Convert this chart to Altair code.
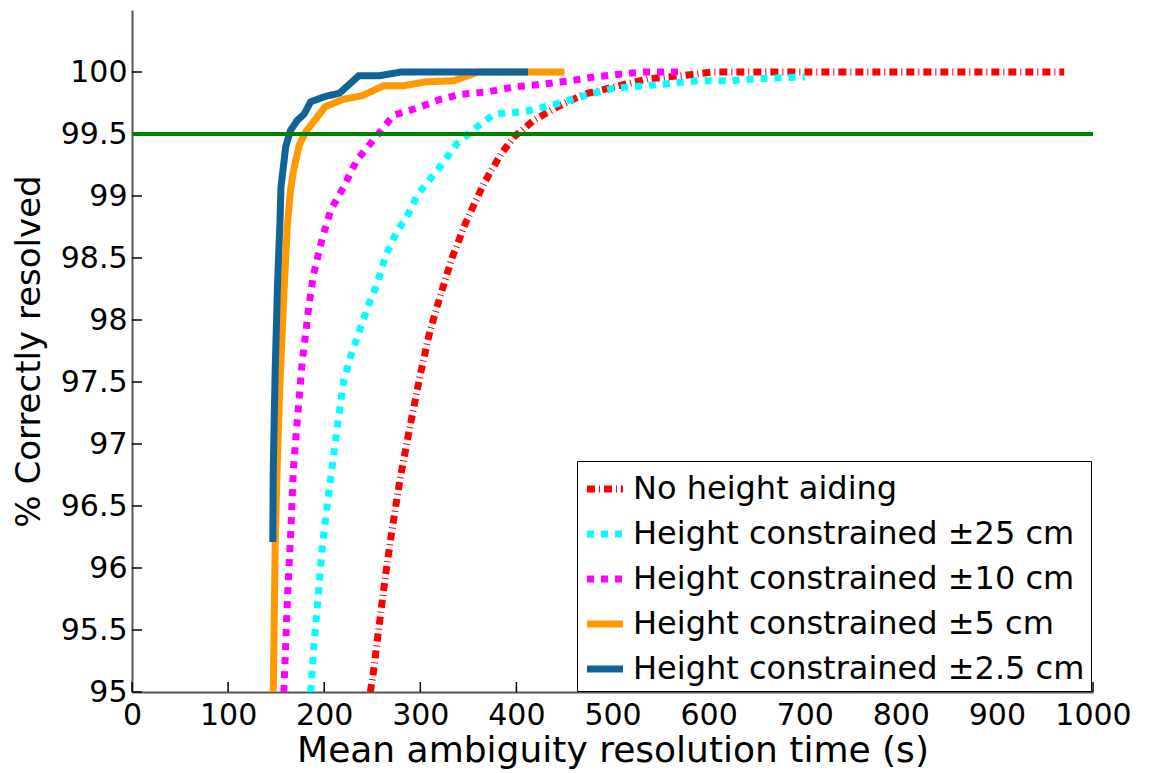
import altair as alt
import pandas as pd

# ---- data ----
series_names = [
    "No height aiding",
    "Height constrained \u00b125 cm",
    "Height constrained \u00b110 cm",
    "Height constrained \u00b15 cm",
    "Height constrained \u00b12.5 cm",
]
series_colors = ["#FF0000", "#00FFFF", "#FF00FF", "#FF9900", "#106399"]
series_dashes = [[8, 4, 1, 4], [7, 7], [7, 7], [1, 0], [1, 0]]

red_x = [248, 251, 255, 259, 264, 271, 279, 290, 300, 310, 321, 333, 347, 366, 384, 398, 418, 443, 470, 502, 537, 571, 605, 970]
red_y = [95.0, 95.15, 95.4, 95.65, 95.95, 96.33, 96.72, 97.17, 97.56, 97.91, 98.2, 98.5, 98.78, 99.1, 99.34, 99.48, 99.61, 99.72, 99.82, 99.88, 99.945, 99.97, 100.0, 100.0]

cyan_x = [186, 189, 193, 198, 203, 208, 213, 220, 228, 237, 246, 255, 264, 276, 285, 298, 318, 338, 356, 377, 408, 436, 467, 502, 537, 589, 623, 660, 700]
cyan_y = [95.0, 95.35, 95.71, 96.17, 96.5, 96.8, 97.1, 97.5, 97.72, 97.92, 98.12, 98.29, 98.52, 98.72, 98.82, 99.02, 99.21, 99.42, 99.54, 99.66, 99.68, 99.73, 99.80, 99.87, 99.89, 99.93, 99.93, 99.95, 99.96]

mag_x = [158, 160, 162, 165, 168, 171, 177, 184, 189, 198, 207, 215, 220, 227, 234, 252, 272, 297, 321, 342, 370, 398, 425, 457, 481, 505, 532, 572]
mag_y = [95.0, 95.4, 95.8, 96.25, 96.8, 97.1, 97.65, 98.11, 98.37, 98.66, 98.89, 99.0, 99.07, 99.18, 99.29, 99.46, 99.65, 99.71, 99.78, 99.82, 99.84, 99.88, 99.90, 99.93, 99.96, 99.98, 100.0, 100.0]

orange_x = [147, 148, 149, 151, 154, 158, 161.5, 165, 168, 174, 181, 189, 201, 220, 240, 262, 283, 305, 335, 360, 450]
orange_y = [95.0, 95.6, 96.2, 96.8, 97.5, 98.2, 98.75, 99.05, 99.2, 99.41, 99.52, 99.6, 99.72, 99.78, 99.81, 99.89, 99.89, 99.92, 99.93, 100.0, 100.0]

blue_x = [146.5, 147, 149, 151.5, 154, 155, 160, 165, 172, 179, 186, 200, 216, 236, 257, 280, 412]
blue_y = [96.21, 96.8, 97.6, 98.3, 98.8, 99.07, 99.40, 99.53, 99.61, 99.66, 99.76, 99.80, 99.83, 99.97, 99.97, 100.0, 100.0]

threshold = [99.5]
x_ticks = [0, 100, 200, 300, 400, 500, 600, 700, 800, 900, 1000]
y_ticks = [95, 95.5, 96, 96.5, 97, 97.5, 98, 98.5, 99, 99.5, 100]

x_title = "Mean ambiguity resolution time (s)"
y_title = "% Correctly resolved"

# ---- build table ----
rows = []
for name, xs, ys in zip(series_names,
                        [red_x, cyan_x, mag_x, orange_x, blue_x],
                        [red_y, cyan_y, mag_y, orange_y, blue_y]):
    for i, (xv, yv) in enumerate(zip(xs, ys)):
        rows.append({"series": name, "x": xv, "y": yv, "i": i})
df = pd.DataFrame(rows)

FONT = "DejaVu Sans"
W, H = 961, 682

xscale = alt.Scale(domain=[0, 1000], nice=False)
yscale = alt.Scale(domain=[95, 100.5], nice=False, zero=False)

x_axis = alt.Axis(values=x_ticks, ticks=False, tickSize=0, grid=False,
                  domainColor="#555555", domainWidth=2,
                  labelExpr="datum.value + ''",
                  labelFont=FONT, labelFontSize=30, labelColor="black",
                  labelPadding=8, labelOverlap=False, labelFlush=False,
                  titleFont=FONT, titleFontSize=36, titleFontWeight="normal",
                  titleColor="black", titlePadding=3)
y_axis = alt.Axis(values=y_ticks, ticks=False, tickSize=0, grid=False,
                  domainColor="#555555", domainWidth=2,
                  labelExpr="datum.value + ''",
                  labelFont=FONT, labelFontSize=30, labelColor="black",
                  labelPadding=5, labelOverlap=False, labelFlush=False,
                  titleFont=FONT, titleFontSize=34, titleFontWeight="normal",
                  titleColor="black", titlePadding=14)

leg = alt.Legend(
    orient="none", legendX=445, legendY=451, title=None,
    strokeColor="black", fillColor="white", padding=6,
    labelFont=FONT, labelFontSize=32, labelColor="black", labelLimit=1000,
    symbolType="stroke", symbolSize=1300, symbolStrokeWidth=7,
    rowPadding=7, labelOffset=6, cornerRadius=0,
)

lines = alt.Chart(df).mark_line(strokeCap="butt", strokeWidth=7, clip=True).encode(
    x=alt.X("x:Q", scale=xscale, title=x_title, axis=x_axis),
    y=alt.Y("y:Q", scale=yscale, title=y_title, axis=y_axis),
    color=alt.Color("series:N", scale=alt.Scale(domain=series_names, range=series_colors), legend=leg),
    strokeDash=alt.StrokeDash("series:N", scale=alt.Scale(domain=series_names, range=series_dashes), legend=leg),
    order="i:Q",
)

green = alt.Chart(pd.DataFrame({"t": threshold})).mark_rule(color="#008000", strokeWidth=4).encode(
    y=alt.Y("t:Q", scale=yscale, title=y_title, axis=y_axis)
)

xt = alt.Chart(pd.DataFrame({"v": x_ticks})).mark_rule(color="black", strokeWidth=1.5).encode(
    x=alt.X("v:Q", scale=xscale, title=x_title, axis=x_axis), y=alt.value(H), y2=alt.value(H - 10)
)
yt = alt.Chart(pd.DataFrame({"v": y_ticks})).mark_rule(color="black", strokeWidth=1.5).encode(
    y=alt.Y("v:Q", scale=yscale, title=y_title, axis=y_axis), x=alt.value(0), x2=alt.value(10)
)

chart = alt.layer(xt, yt, lines, green).properties(
    width=W, height=H,
    autosize=alt.AutoSizeParams(type="none"),
    padding={"left": 132, "top": 10, "right": 56, "bottom": 81},
    background="white",
).configure_view(stroke=None)

chart.save("out.html", embed_options={"renderer": "svg", "actions": False})
